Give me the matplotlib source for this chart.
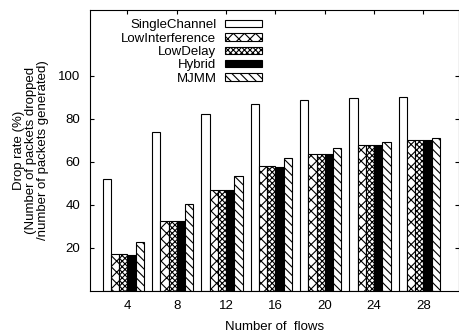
import numpy as np
import matplotlib
matplotlib.use("Agg")
import matplotlib.pyplot as plt

plt.rcParams['font.family'] = ['Liberation Sans', 'DejaVu Sans']
plt.rcParams['hatch.linewidth'] = 0.8
plt.rcParams['hatch.color'] = 'black'

flows = ['4', '8', '12', '16', '20', '24', '28']
series_names = ['SingleChannel', 'LowInterference', 'LowDelay', 'Hybrid', 'MJMM']
single_channel = [52.0, 73.6, 82.2, 86.6, 88.6, 89.7, 90.1]
low_interference = [16.8, 32.5, 46.7, 57.9, 63.5, 67.8, 69.8]
low_delay = [16.8, 32.5, 46.7, 57.9, 63.5, 67.8, 69.8]
hybrid = [16.5, 32.5, 46.7, 57.6, 63.3, 67.8, 69.8]
mjmm = [22.5, 40.1, 53.1, 61.5, 66.1, 68.9, 70.8]
y_ticks = [20, 40, 60, 80, 100]

values = [single_channel, low_interference, low_delay, hybrid, mjmm]
styles = [
    dict(facecolor='white', hatch=None),
    dict(facecolor='white', hatch='xxx'),
    dict(facecolor='white', hatch='xxxxxx'),
    dict(facecolor='black', hatch=None),
    dict(facecolor='white', hatch='\\\\\\\\'),
]

FS = 9.5

fig = plt.figure(figsize=(4.6, 3.35), dpi=100)
ax = fig.add_axes([90 / 460, 44.5 / 335, 369 / 460, 280.5 / 335])

x = np.arange(len(flows))
w = 1 / 6
for k, (name, vals, st) in enumerate(zip(series_names, values, styles)):
    ax.bar(x + (k - 2.5) * w, vals, width=w, label=name,
           edgecolor='black', linewidth=0.8, **st)

ax.set_xlim(-0.76, 6.72)
ax.set_ylim(0, 130.5)
ax.set_xticks(x)
ax.set_xticklabels(flows)
ax.set_yticks(y_ticks)
ax.tick_params(direction='in', length=3, width=0.8, labelsize=FS,
               top=True, right=True, pad=7)
for s in ax.spines.values():
    s.set_linewidth(0.8)

ax.set_xlabel('Number of  flows', fontsize=FS, labelpad=6)
fig.text(31 / 460, 1 - 150 / 335,
         'Drop rate (%)\n(Number of packets dropped\n/number of packets generated)',
         rotation=90, ha='center', va='center', multialignment='center',
         fontsize=FS, linespacing=1.05)

ax.legend(loc='upper right', bbox_to_anchor=(0.484, 0.99), frameon=False,
          markerfirst=False, fontsize=FS, borderpad=0, labelspacing=0.1,
          handlelength=2.8, handleheight=0.5, handletextpad=0.65)

fig.savefig('out.png', dpi=100)
